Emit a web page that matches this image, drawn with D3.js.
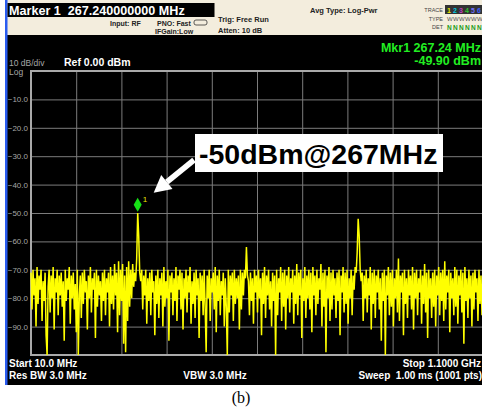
<!DOCTYPE html>
<html lang="en">
<head>
<meta charset="utf-8">
<title>Spectrum</title>
<script src="https://d3js.org/d3.v7.min.js"></script>
<style>
  body { margin: 0; background: #fff; }
  svg text { font-family: "Liberation Sans", Arial, sans-serif; }
  .grid line { stroke: #7c7c7c; stroke-width: 1; }
  .grid path { display: none; }
  .ylab text { fill: #a6a6a6; font-size: 8px; }
</style>
</head>
<body>
<script>
// sweep settings
var startMHz = 10, stopMHz = 1100;
var refLevel = 0, bottomLevel = -100;
var levelTicks = [-10, -20, -30, -40, -50, -60, -70, -80, -90];
var freqGrid = [10, 119, 228, 337, 446, 555, 664, 773, 882, 991, 1100];

// marker
var markerFreq = 267.24;
var markerLevel = -49.90;

// trace (dBm), evenly spaced sweep points from start to stop
var trace = [
 -71,-84,-70,-79,-73,-90,-69,-82,-72,-77,-70,-88,-74,-81,-71,-93,-100,-76,-70,-85,-72,-80,-69,-91,-73,
 -78,-70,-86,-72,-79,-71,-83,-74,-95,-70,-81,-73,-77,-69,-89,-72,-80,-71,-84,-75,-92,-70,-100,-79,-72,
 -87,-71,-82,-70,-78,-74,-91,-72,-80,-69,-85,-73,-77,-71,-94,-70,-83,-72,-79,-74,-88,-71,-81,-70,-86,
 -73,-78,-71,-90,-69,-82,-72,-84,-68,-79,-71,-92,-67,-86,-70,-81,-68,-96,-72,-99,-69,-88,-67,-83,-70,
 -80,-68,-76,-71,-74,-66,-50,-58,-71,-74,-70,-84,-72,-79,-70,-89,-73,-81,-71,-86,-70,-78,-74,-93,-72,
 -82,-70,-87,-73,-79,-71,-90,-69,-83,-74,-80,-70,-95,-72,-78,-71,-86,-73,-81,-69,-88,-72,-77,-70,-84,
 -71,-91,-73,-80,-70,-85,-72,-78,-69,-89,-74,-82,-71,-87,-70,-79,-73,-94,-71,-81,-72,-86,-70,-83,-99,
 -72,-80,-70,-88,-73,-78,-71,-84,-69,-92,-72,-81,-70,-86,-74,-79,-71,-90,-73,-83,-100,-70,-85,-72,-79,
 -71,-88,-70,-82,-73,-80,-72,-91,-70,-84,-71,-79,-70,-73,-62,-72,-74,-86,-71,-81,-73,-89,-70,-78,-72,
 -85,-70,-80,-73,-93,-71,-82,-69,-87,-72,-79,-70,-84,-74,-90,-71,-81,-72,-100,-70,-86,-73,-78,-69,-88,
 -71,-83,-70,-91,-72,-80,-69,-85,-73,-78,-70,-89,-72,-82,-68,-86,-71,-79,-70,-94,-73,-81,-69,-87,-72,
 -80,-70,-84,-71,-92,-69,-79,-72,-86,-70,-82,-73,-77,-68,-90,-71,-83,-70,-99,-72,-80,-69,-88,-71,-84,
 -70,-79,-73,-87,-71,-81,-70,-93,-72,-78,-69,-85,-71,-82,-70,-89,-73,-80,-70,-86,-72,-77,-69,-71,-64,
 -52,-58,-70,-74,-71,-88,-72,-80,-70,-85,-73,-79,-69,-91,-71,-82,-70,-87,-72,-78,-70,-84,-73,-95,-71,
 -81,-70,-100,-72,-79,-69,-86,-71,-83,-70,-90,-73,-80,-70,-85,-66,-88,-72,-78,-71,-93,-70,-82,-73,-87,
 -70,-79,-72,-84,-69,-91,-71,-80,-70,-86,-73,-78,-70,-89,-72,-82,-68,-85,-71,-94,-70,-80,-73,-87,-71,
 -83,-70,-90,-72,-79,-69,-86,-71,-81,-70,-88,-67,-84,-72,-78,-70,-92,-71,-80,-73,-86,-69,-83,-70,-89,
 -72,-79,-70,-85,-71,-96,-69,-81,-73,-87,-70,-80,-72,-90,-71,-84,-70,-78,-73,-88,-70,-82,-72,-86,-71
];

var w = 482, h = 409;
var plotLeft = 31, plotRight = 483, plotTop = 71, plotBottom = 355;

var svg = d3.select("body").append("svg")
  .attr("width", w).attr("height", h);

// instrument screen background
svg.append("rect").attr("x", 5).attr("y", 0).attr("width", w - 5).attr("height", 385).attr("fill", "#000");
svg.append("rect").attr("x", 5).attr("y", 0).attr("width", w - 5).attr("height", 35).attr("fill", "#f3eddd");
svg.append("rect").attr("x", 5).attr("y", 0).attr("width", 2.5).attr("height", 385).attr("fill", "#2a5cf0");
svg.append("rect").attr("x", 7.5).attr("y", 3).attr("width", 207).attr("height", 14).attr("fill", "#000");

var xScale = d3.scaleLinear().domain([startMHz, stopMHz]).range([plotLeft, plotRight]);
var yScale = d3.scaleLinear().domain([bottomLevel, refLevel]).range([plotBottom, plotTop]);

// horizontal grid + level labels
svg.append("g")
  .attr("class", "grid ylab")
  .attr("transform", "translate(" + plotLeft + ",0)")
  .call(d3.axisLeft(yScale).tickValues(levelTicks).tickSize(-(plotRight - plotLeft)).tickPadding(3)
    .tickFormat(d3.format(".1f")))
  .selectAll("text").attr("dy", "0.32em");

// vertical grid
svg.append("g")
  .attr("class", "grid")
  .attr("transform", "translate(0," + plotBottom + ")")
  .call(d3.axisBottom(xScale).tickValues(freqGrid).tickSize(-(plotBottom - plotTop)).tickFormat(""));

// graticule border
svg.append("rect")
  .attr("x", plotLeft).attr("y", plotTop).attr("width", plotRight - plotLeft).attr("height", plotBottom - plotTop)
  .attr("fill", "none").attr("stroke", "#a9a9a9").attr("stroke-width", 2);

// trace
var step = (stopMHz - startMHz) / (trace.length - 1);
var line = d3.line()
  .x(function(d, i) { return xScale(startMHz + i * step); })
  .y(function(d) { return yScale(d); });

svg.append("path")
  .datum(trace)
  .attr("d", line)
  .attr("fill", "none")
  .attr("stroke", "#ffff00")
  .attr("stroke-width", 1.5);

// marker diamond
var mx = xScale(markerFreq), my = yScale(markerLevel) - 8;
svg.append("path")
  .attr("d", "M" + mx + "," + (my - 7) + "L" + (mx + 4) + "," + my + "L" + mx + "," + (my + 7) + "L" + (mx - 4) + "," + my + "Z")
  .attr("fill", "#16e016");
svg.append("text").attr("x", mx + 5).attr("y", my - 3).attr("fill", "#e8e800")
  .style("font-size", "8px").text("1");

// annotation
svg.append("rect").attr("x", 195).attr("y", 134).attr("width", 248).attr("height", 38).attr("fill", "#fff");
svg.append("text").attr("x", 199).attr("y", 164)
  .style("font-size", "28.5px").style("font-weight", "bold").attr("fill", "#000")
  .text("-50dBm@267MHz");

var tail = [194, 160], tip = [mx + 16, my - 12];
var dx = tip[0] - tail[0], dy = tip[1] - tail[1], len = Math.sqrt(dx * dx + dy * dy);
var ux = dx / len, uy = dy / len;
var hb = [tip[0] - ux * 17, tip[1] - uy * 17];
svg.append("line").attr("x1", tail[0]).attr("y1", tail[1]).attr("x2", hb[0]).attr("y2", hb[1])
  .attr("stroke", "#fff").attr("stroke-width", 5.5);
svg.append("path")
  .attr("d", "M" + tip[0] + "," + tip[1] +
    "L" + (hb[0] - uy * 9) + "," + (hb[1] + ux * 9) +
    "L" + (hb[0] + uy * 9) + "," + (hb[1] - ux * 9) + "Z")
  .attr("fill", "#fff");

// header texts
function txt(x, y, s, size, color, weight, anchor) {
  return svg.append("text").attr("x", x).attr("y", y)
    .style("font-size", size + "px").style("font-weight", weight || "normal")
    .attr("fill", color).attr("text-anchor", anchor || "start").text(s);
}
txt(9, 14.5, "Marker 1  267.240000000 MHz", 12.6, "#fff", "bold").attr("xml:space", "preserve");
txt(110, 26, "Input: RF", 7, "#222", "bold");
txt(157, 26, "PNO: Fast", 7, "#222", "bold");
txt(155, 34, "IFGain:Low", 7, "#222", "bold");
svg.append("rect").attr("x", 194).attr("y", 20).attr("width", 13).attr("height", 5).attr("rx", 2)
  .attr("fill", "none").attr("stroke", "#333").attr("stroke-width", 0.8);
txt(218, 22, "Trig: Free Run", 7.5, "#222", "bold");
txt(218, 33, "Atten: 10 dB", 7.5, "#222", "bold");
txt(310, 13, "Avg Type: Log-Pwr", 7.5, "#222", "bold");
txt(443, 12, "TRACE", 5.5, "#444", "normal", "end");
txt(443, 21, "TYPE", 5.5, "#444", "normal", "end");
txt(443, 29, "DET", 5.5, "#444", "normal", "end");
var traceCols = ["#e8e800", "#00c8e0", "#c040c0", "#30c030", "#7070ff", "#4060ff"];
svg.append("rect").attr("x", 445).attr("y", 5).attr("width", 37).attr("height", 9).attr("fill", "#333");
traceCols.forEach(function(c, i) {
  txt(447 + i * 6, 12.5, String(i + 1), 7, c, "bold");
  txt(447 + i * 6, 21, "W", 6, "#555", "normal");
  txt(447 + i * 6, 29.5, "N", 6.5, "#1a9a1a", "bold");
});

txt(481, 52, "Mkr1 267.24 MHz", 12.5, "#22ee22", "bold", "end");
txt(481, 65, "-49.90 dBm", 12.5, "#22ee22", "bold", "end");
txt(9, 66, "10 dB/div", 8.5, "#a6a6a6");
txt(9, 75, "Log", 8.5, "#a6a6a6");
txt(64, 66, "Ref 0.00 dBm", 10.5, "#fff", "bold");

// footer
txt(9, 367, "Start 10.0 MHz", 10, "#fff", "bold");
txt(9, 379, "Res BW 3.0 MHz", 10, "#fff", "bold");
txt(215, 379, "VBW 3.0 MHz", 10, "#fff", "bold", "middle");
txt(481, 367, "Stop 1.1000 GHz", 10, "#fff", "bold", "end");
txt(482, 379, "Sweep  1.00 ms (1001 pts)", 10, "#fff", "bold", "end").attr("xml:space", "preserve");

svg.append("text").attr("x", 241).attr("y", 403).attr("text-anchor", "middle")
  .style("font-family", "'Liberation Serif', 'Times New Roman', serif").style("font-size", "16px")
  .attr("fill", "#000").text("(b)");
</script>
</body>
</html>
